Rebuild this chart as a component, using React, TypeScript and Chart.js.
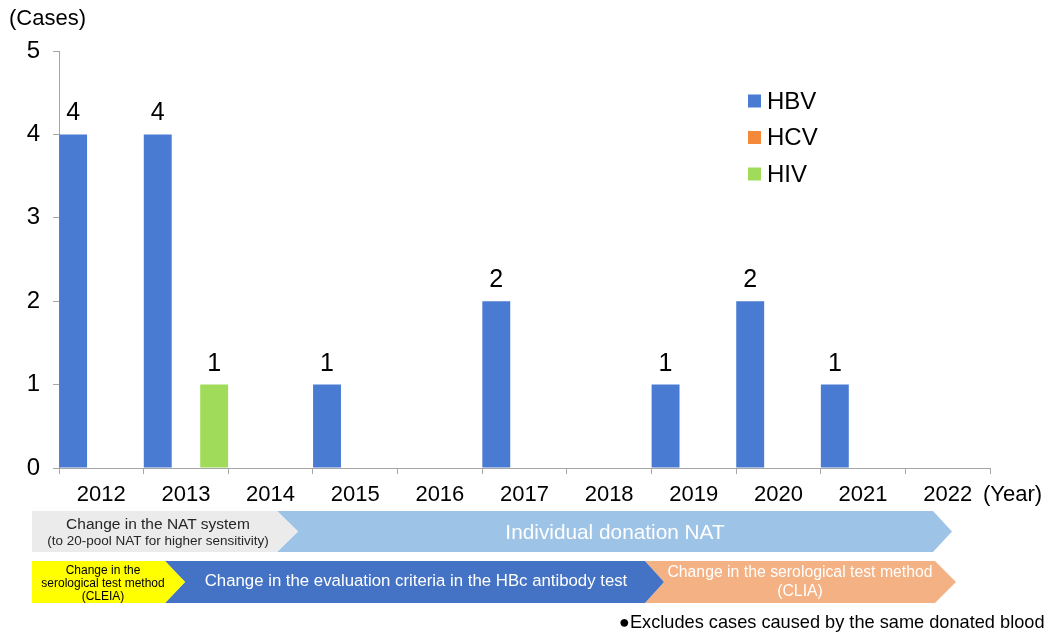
import React, { useEffect, useRef } from "react";
import { Chart, registerables } from "chart.js";

Chart.register(...registerables);

const years = ["2012", "2013", "2014", "2015", "2016", "2017", "2018", "2019", "2020", "2021", "2022"];
const hbv = [4, 4, null, 1, null, 2, null, 1, 2, 1, null];
const hcv = [null, null, null, null, null, null, null, null, null, null, null];
const hiv = [null, 1, null, null, null, null, null, null, null, null, null];
const seriesNames = ["HBV", "HCV", "HIV"];
const seriesColors = ["#4A7BD3", "#F5893A", "#A0DC5A"];
const yTicks = [0, 1, 2, 3, 4, 5];

const FONT = "'Liberation Sans', Arial, sans-serif";

const labelPlugin = {
  id: "valueLabels",
  afterDatasetsDraw(chart: any) {
    const ctx = chart.ctx;
    ctx.save();
    ctx.font = `25px ${FONT}`;
    ctx.fillStyle = "#000";
    ctx.textAlign = "center";
    ctx.textBaseline = "alphabetic";
    chart.data.datasets.forEach((ds: any, i: number) => {
      const meta = chart.getDatasetMeta(i);
      meta.data.forEach((el: any, j: number) => {
        const v = ds.data[j];
        if (v == null || v === 0) return;
        ctx.fillText(String(v), el.x, el.y - 14);
      });
    });
    ctx.restore();
  },
};

const legendPlugin = {
  id: "customLegend",
  afterDraw(chart: any) {
    const ctx = chart.ctx;
    ctx.save();
    ctx.font = `24px ${FONT}`;
    ctx.textBaseline = "middle";
    ctx.textAlign = "left";
    chart.data.datasets.forEach((ds: any, i: number) => {
      const cy = 101 + i * 36.5;
      ctx.fillStyle = ds.backgroundColor;
      ctx.fillRect(748, cy - 6.5, 13, 13);
      ctx.fillStyle = "#000";
      ctx.fillText(ds.label, 767, cy + 1);
    });
    ctx.font = `22px ${FONT}`;
    ctx.fillText("(Cases)", 9, 19);
    ctx.fillText("(Year)", 983, 495);
    ctx.restore();
  },
};

function Banner(props: {
  left: number;
  top: number;
  width: number;
  height: number;
  tip: number;
  notch?: number;
  color: string;
  z: number;
}) {
  const { left, top, width, height, tip, notch = 0, color, z } = props;
  const body = width - tip;
  const clip = `polygon(0px 0px, ${body}px 0px, ${width}px 50%, ${body}px 100%, 0px 100%, ${notch}px 50%)`;
  return (
    <div
      style={{
        position: "absolute",
        left,
        top,
        width,
        height,
        background: color,
        clipPath: clip,
        zIndex: z,
      }}
    />
  );
}

function TextBox(props: { left: number; top: number; width: number; children: React.ReactNode; style?: React.CSSProperties }) {
  return (
    <div
      style={{
        position: "absolute",
        left: props.left,
        top: props.top,
        width: props.width,
        textAlign: "center",
        fontFamily: FONT,
        whiteSpace: "nowrap",
        ...props.style,
      }}
    >
      {props.children}
    </div>
  );
}

export default function App() {
  const ref = useRef<HTMLCanvasElement>(null);

  useEffect(() => {
    if (!ref.current) return;
    const chart = new Chart(ref.current, {
      type: "bar",
      data: {
        labels: years,
        datasets: [
          { label: seriesNames[0], data: hbv, backgroundColor: seriesColors[0] },
          { label: seriesNames[1], data: hcv, backgroundColor: seriesColors[1] },
          { label: seriesNames[2], data: hiv, backgroundColor: seriesColors[2] },
        ],
      },
      options: {
        animation: false,
        responsive: false,
        layout: { padding: { top: 51, right: 64, left: 0, bottom: 0 } },
        datasets: { bar: { categoryPercentage: 1, barPercentage: 0.99 } },
        plugins: { legend: { display: false }, tooltip: { enabled: false } },
        scales: {
          x: {
            offset: true,
            grid: { display: true, drawOnChartArea: false, drawTicks: true, tickLength: 6, offset: true, color: "#A6A6A6" },
            border: { display: true, color: "#A6A6A6", width: 1 },
            ticks: { color: "#000", font: { family: FONT, size: 22 }, padding: 8, maxRotation: 0, autoSkip: false },
            afterFit: (s: any) => {
              s.height = 635 - 468;
            },
          },
          y: {
            min: 0,
            max: 5,
            afterBuildTicks: (s: any) => {
              s.ticks = yTicks.map((v) => ({ value: v }));
            },
            grid: { display: true, drawOnChartArea: false, drawTicks: true, tickLength: 6, color: "#A6A6A6" },
            border: { display: true, color: "#A6A6A6", width: 1 },
            ticks: { color: "#000", font: { family: FONT, size: 24 }, padding: 13 },
            afterFit: (s: any) => {
              s.width = 59;
            },
          },
        },
      },
      plugins: [labelPlugin, legendPlugin],
    } as any);
    return () => chart.destroy();
  }, []);

  return (
    <div style={{ position: "absolute", left: 0, top: 0, width: 1054, height: 635, background: "#fff", overflow: "hidden" }}>
      <canvas ref={ref} width={1054} height={635} style={{ position: "absolute", left: 0, top: 0, width: 1054, height: 635 }} />

      <Banner left={32} top={511} width={266} height={41} tip={21} color="#EBEBEB" z={2} />
      <Banner left={277} top={511} width={675} height={41} tip={19} notch={21} color="#9DC3E6" z={1} />
      <Banner left={32} top={561} width={153} height={42} tip={20} color="#FFFF00" z={3} />
      <Banner left={165} top={561} width={499} height={42} tip={19} notch={20} color="#4472C4" z={2} />
      <Banner left={645} top={561} width={311} height={42} tip={21} notch={19} color="#F4B183" z={1} />

      <TextBox left={38} top={515} width={240} style={{ zIndex: 5, color: "#262626", fontSize: 15.5, lineHeight: "18px" }}>
        Change in the NAT system
      </TextBox>
      <TextBox left={38} top={533} width={240} style={{ zIndex: 5, color: "#262626", fontSize: 13.5, lineHeight: "16px" }}>
        (to 20-pool NAT for higher sensitivity)
      </TextBox>
      <TextBox left={415} top={520} width={400} style={{ zIndex: 5, color: "#fff", fontSize: 20.8, lineHeight: "24px" }}>
        Individual donation NAT
      </TextBox>
      <TextBox left={33} top={564} width={140} style={{ zIndex: 5, color: "#000", fontSize: 12, lineHeight: "13px" }}>
        Change in the
        <br />
        serological test method
        <br />
        (CLEIA)
      </TextBox>
      <TextBox left={200} top={570} width={432} style={{ zIndex: 5, color: "#fff", fontSize: 16.8, lineHeight: "22px" }}>
        Change in the evaluation criteria in the HBc antibody test
      </TextBox>
      <TextBox left={650} top={562} width={300} style={{ zIndex: 5, color: "#fff", fontSize: 15.8, lineHeight: "19px" }}>
        Change in the serological test method
        <br />
        (CLIA)
      </TextBox>
      <div
        style={{
          position: "absolute",
          left: 619,
          top: 611,
          fontFamily: FONT,
          fontSize: 18.2,
          lineHeight: "22px",
          color: "#000",
          whiteSpace: "nowrap",
        }}
      >
        ●Excludes cases caused by the same donated blood
      </div>
    </div>
  );
}
